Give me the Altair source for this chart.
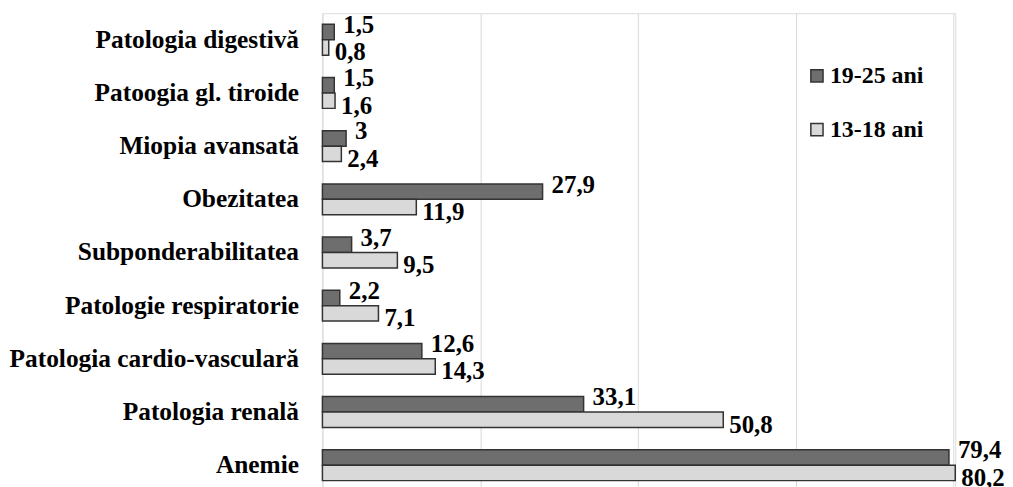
import altair as alt
import pandas as pd

categories = [
    "Patologia digestivă",
    "Patoogia gl. tiroide",
    "Miopia avansată",
    "Obezitatea",
    "Subponderabilitatea",
    "Patologie respiratorie",
    "Patologia cardio-vasculară",
    "Patologia renală",
    "Anemie",
]
series = ["19-25 ani", "13-18 ani"]
values_19_25 = [1.5, 1.5, 3, 27.9, 3.7, 2.2, 12.6, 33.1, 79.4]
values_13_18 = [0.8, 1.6, 2.4, 11.9, 9.5, 7.1, 14.3, 50.8, 80.2]
grid_ticks = [0, 20, 40, 60, 80]

rows = []
for s, vals in zip(series, [values_19_25, values_13_18]):
    for c, v in zip(categories, vals):
        rows.append({"cat": c, "grp": s, "val": v,
                     "lbl": f"{v:g}".replace(".", ",")})
df = pd.DataFrame(rows)

FONT = "Liberation Serif, Times New Roman, serif"

y_enc = alt.Y("cat:N", sort=categories, title=None,
              scale=alt.Scale(paddingInner=0.42, paddingOuter=0.21),
              axis=alt.Axis(labelFont=FONT, labelFontSize=25.5, labelFontWeight="bold",
                            labelColor="black", labelPadding=24, domain=False,
                            ticks=False, grid=False, labelLimit=400))
x_enc = alt.X("val:Q", title=None,
              scale=alt.Scale(domain=[0, 80.2], nice=False, zero=True),
              axis=alt.Axis(values=grid_ticks, labels=False, ticks=False, domain=False,
                            grid=True, gridColor="#d9d9d9", gridWidth=1))
yoff = alt.YOffset("grp:N", sort=series, scale=alt.Scale(padding=0, paddingInner=0))

base = alt.Chart(df)

bars = base.mark_bar(stroke="#333333", strokeWidth=1.5).encode(
    y=y_enc, x=x_enc, yOffset=yoff,
    color=alt.Color("grp:N", sort=series, title=None,
                    scale=alt.Scale(domain=series, range=["#6e6e6e", "#d9d9d9"]),
                    legend=alt.Legend(orient="none", legendX=485, legendY=51,
                                      symbolType="square", symbolSize=150,
                                      symbolStrokeColor="#333333", symbolStrokeWidth=1.5,
                                      labelFont=FONT, labelFontSize=24,
                                      labelFontWeight="bold", labelColor="black",
                                      labelOffset=1, rowPadding=30, padding=0)),
)

txt_dark = base.transform_filter(alt.datum.grp == series[0]).mark_text(
    align="left", baseline="middle", dx=9, dy=-7, font=FONT, fontSize=25,
    fontWeight="bold", color="black").encode(
    y=y_enc, x=x_enc, yOffset=yoff, text="lbl:N")

txt_light = base.transform_filter(alt.datum.grp == series[1]).mark_text(
    align="left", baseline="middle", dx=6, dy=5, font=FONT, fontSize=25,
    fontWeight="bold", color="black").encode(
    y=y_enc, x=x_enc, yOffset=yoff, text="lbl:N")

chart = alt.layer(bars, txt_dark, txt_light).properties(
    width=636, height=481,
    padding={"top": 3, "left": 0, "right": 0, "bottom": 0},
).configure_view(stroke=None).configure(background="white")

chart.save("out.html", embed_options={"renderer": "svg", "actions": False})
